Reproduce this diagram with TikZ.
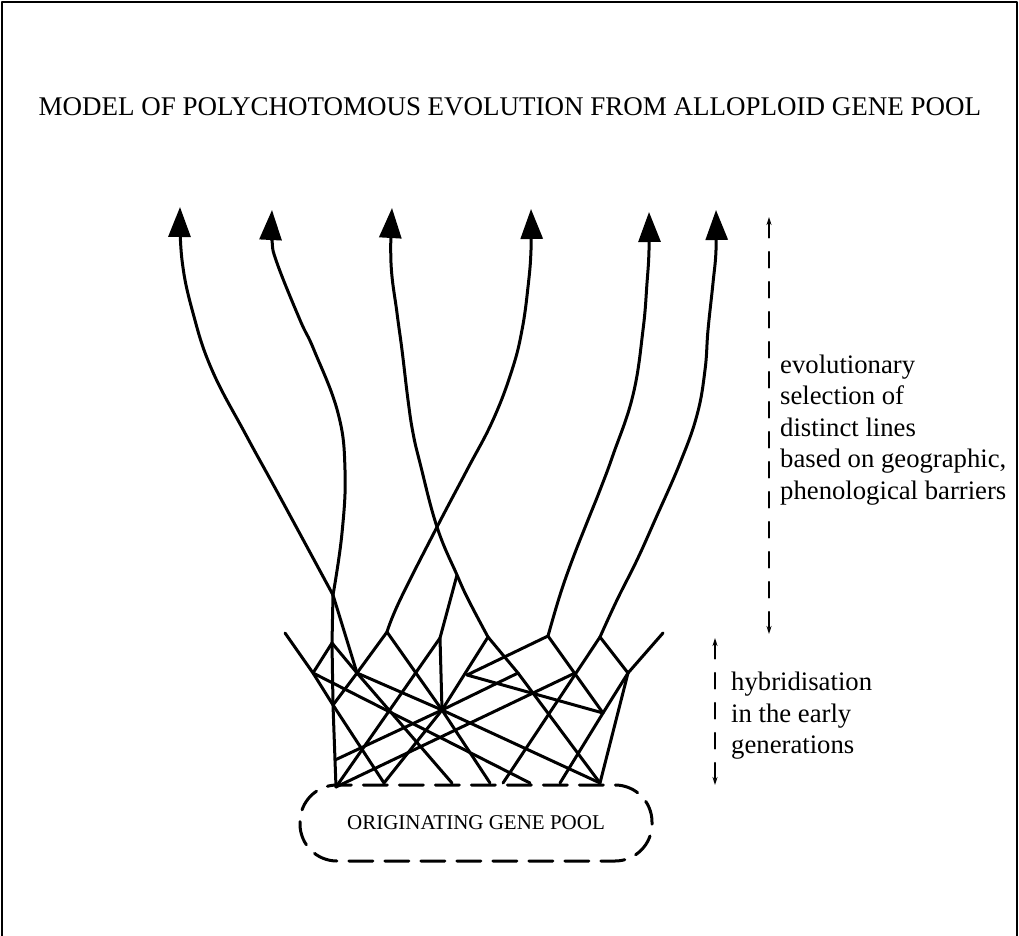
\documentclass[tikz,border=0pt]{standalone}
\usepackage{fontspec}
\setmainfont{Liberation Serif}
\usetikzlibrary{arrows.meta}
\begin{document}
\begin{tikzpicture}[x=1pt,y=-1pt,line join=round,line cap=round,
  net/.style={line width=3pt},
  evo/.style={line width=3pt,-{Triangle[width=22pt,length=30pt]}},
  span/.style={line width=1.8pt,dash pattern=on 16pt off 14pt,
    {Stealth[length=8pt,width=5pt]}-{Stealth[length=8pt,width=5pt]}},
  lbl/.style={font=\fontsize{26.7}{31.5}\selectfont,align=left,anchor=west,inner sep=0pt},
]
\useasboundingbox (0,0) rectangle (1019,936);
\draw[line width=2pt] (2,936) -- (2,2) -- (1017,2) -- (1017,936);

% title
\node[font=\fontsize{27}{32}\selectfont] (title) at (510,107)
  {MODEL OF POLYCHOTOMOUS EVOLUTION FROM ALLOPLOID GENE POOL};

% arrow tips of the selected lines
\coordinate (a1) at (180,207);
\coordinate (a2) at (272,210);
\coordinate (a3) at (392,208);
\coordinate (a4) at (531,209);
\coordinate (a5) at (649,212);
\coordinate (a6) at (716,210);

% junctions of the hybrid network
\coordinate (L)  at (285,633);
\coordinate (R)  at (663,633);
\coordinate (J1) at (333,595);
\coordinate (J2) at (332,643);
\coordinate (J5) at (313,673);
\coordinate (J4) at (357,673);
\coordinate (J3) at (333,705);
\coordinate (N1) at (387,632);
\coordinate (F1) at (457,575);
\coordinate (N3) at (440,638);
\coordinate (J6) at (442,710);
\coordinate (N2) at (488,637);
\coordinate (N4) at (548,636);
\coordinate (K)  at (467,675);
\coordinate (N6) at (600,637);
\coordinate (N5) at (628,673);
\coordinate (N7) at (603,713);
\coordinate (X1) at (575,673);
\coordinate (Q)  at (518,673);
\coordinate (P)  at (335,760);

% feet on the gene pool
\coordinate (B1) at (336,787);
\coordinate (B2) at (384,783);
\coordinate (B3) at (452,783);
\coordinate (B4) at (490,783);
\coordinate (B5) at (503,783);
\coordinate (B6) at (530,783);
\coordinate (B7) at (560,783);
\coordinate (B8) at (600,783);

% selected lines running upwards
\draw[evo] plot[smooth,tension=0.7] coordinates
  {(J1) (280,497) (246,435) (212,370) (193,313) (182,260) (a1)};
\draw[evo] plot[smooth,tension=0.7] coordinates
  {(J1) (342,533) (345,470) (338,413) (314,350) (300,320) (277,263) (272,240) (a2)};
\draw[evo] plot[smooth,tension=0.7] coordinates
  {(N2) (469,601) (F1) (437,527) (420,463) (413,433) (408,400) (402,350) (397,313) (391,263) (a3)};
\draw[evo] plot[smooth,tension=0.7] coordinates
  {(N1) (400,600) (437,527) (467,470) (493,420) (512,370) (522,330) (528,287) (531,250) (a4)};
\draw[evo] plot[smooth,tension=0.7] coordinates
  {(N4) (560,595) (573,558) (588,520) (600,490) (613,455) (633,395) (643,330) (647,283) (649,250) (a5)};
\draw[evo] plot[smooth,tension=0.7] coordinates
  {(N6) (617,600) (637,560) (655,520) (680,463) (697,415) (705,370) (708,330) (713,283) (716,250) (a6)};

% hybridising lines
\draw[net] (J1) -- (J2) -- (J3) -- (P) -- (B1);
\draw[net] (J1) -- (J4);
\draw[net] (L) -- (J5) -- (J3) -- (B2);
\draw[net] (J2) -- (J5);
\draw[net] (J2) -- (J4) -- (B3);
\draw[net] (N1) -- (J4) -- (J3);
\draw[net] (N1) -- (J6) -- (B4);
\draw[net] (F1) -- (N3) -- (J6);
\draw[net] (N3) -- (B1);
\draw[net] (N2) -- (J6) -- (B2);
\draw[net] (N2) -- (Q) -- (B8);
\draw[net] (N4) -- (K) -- (N7);
\draw[net] (N4) -- (N7);
\draw[net] (N6) -- (B5);
\draw[net] (N6) -- (N5);
\draw[net] (R) -- (N5);
\draw[net] (N5) -- (N7) -- (B7);
\draw[net] (N5) -- (B8);
\draw[net] (J5) -- (B6);
\draw[net] (J4) -- (J6) -- (B8);
\draw[net] (B1) -- (X1);
\draw[net] (Q) -- (J6) -- (P);

% originating gene pool
\node[font=\fontsize{21}{25}\selectfont] (pool) at (476,823) {ORIGINATING GENE POOL};
\draw[line width=3pt,dash pattern=on 24pt off 12pt,rounded corners=37pt]
  (300,785) rectangle (652,861);

% time spans and their notes
\coordinate (s1t) at (769,217);
\coordinate (s1b) at (769,634);
\coordinate (s2t) at (715,638);
\coordinate (s2b) at (715,785);
\draw[span] (s1t) -- (s1b);
\draw[span] (s2t) -- (s2b);
\node[lbl] (note1) at (780,430)
  {evolutionary\\selection of\\distinct lines\\based on geographic,\\phenological barriers};
\node[lbl] (note2) at (731,716) {hybridisation\\in the early\\generations};
\end{tikzpicture}
\end{document}
